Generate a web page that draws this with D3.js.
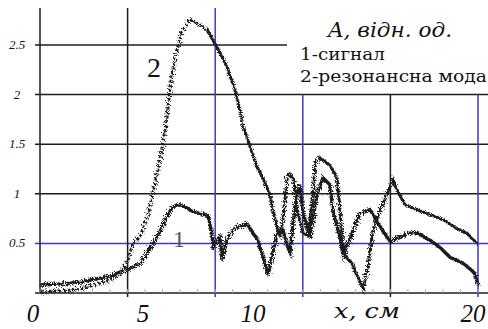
<!DOCTYPE html>
<html>
<head>
<meta charset="utf-8">
<script src="https://cdn.jsdelivr.net/npm/d3@7"></script>
<style>
  body { margin: 0; background: #fff; }
  svg { display: block; }
</style>
</head>
<body>
<svg id="chart" width="488" height="329"></svg>
<script>
// x in cm, amplitude in relative units
const signalX = [0, 0.91, 1.83, 2.74, 3.2, 3.65, 3.97, 4.57, 5.16, 5.48, 5.8, 6.03, 6.26, 6.62, 6.99,
  7.31, 7.67, 7.85, 7.9, 8.22, 8.31, 8.54, 8.81, 9.13, 9.45, 9.73, 9.91, 10.18, 10.41, 10.64, 10.82,
  11.1, 11.28, 11.42, 11.55, 11.74, 11.87, 12.01, 12.19, 12.33, 12.65, 12.92, 13.24, 13.38, 13.7,
  13.84, 14.16, 14.61, 15.07, 15.53, 15.98, 16.44, 16.76, 17.21, 17.81, 18.26, 18.72, 19.32, 19.86, 20];
const signalY = [0.08, 0.09, 0.11, 0.15, 0.17, 0.21, 0.23, 0.3, 0.5, 0.62, 0.77, 0.86, 0.89, 0.87, 0.82,
  0.8, 0.78, 0.6, 0.47, 0.57, 0.33, 0.54, 0.64, 0.67, 0.7, 0.6, 0.55, 0.37, 0.18, 0.42, 0.59,
  0.63, 0.48, 0.41, 0.69, 1.0, 1.09, 0.82, 0.66, 0.56, 1.0, 1.16, 1.09, 0.82, 0.56,
  0.38, 0.55, 0.8, 0.84, 0.67, 0.52, 0.56, 0.6, 0.61, 0.53, 0.46, 0.36, 0.3, 0.2, 0.08];

const modeX = [0, 0.91, 1.83, 2.74, 3.2, 3.65, 3.97, 4.25, 4.57, 4.89, 5.16, 5.39, 5.57, 5.8, 5.94,
  6.16, 6.48, 6.85, 7.21, 7.63, 7.9, 8.22, 8.54, 8.9, 9.13, 9.27, 9.59, 9.91, 10.05, 10.5, 10.64,
  10.82, 10.96, 11.1, 11.28, 11.42, 11.55, 11.74, 12.01, 12.24, 12.47, 12.56, 12.79, 13.24, 13.56,
  13.7, 13.84, 14.02, 14.25, 14.47, 14.75, 14.98, 15.21, 15.53, 15.84, 16.12, 16.3, 16.67, 17.21,
  17.81, 18.4, 18.95, 19.5, 19.95];
const modeY = [0.01, 0.02, 0.04, 0.1, 0.13, 0.2, 0.3, 0.5, 0.57, 0.75, 1.01, 1.25, 1.45, 1.78, 2.08,
  2.37, 2.63, 2.76, 2.71, 2.66, 2.55, 2.42, 2.28, 2.05, 1.85, 1.68, 1.48, 1.27, 1.22, 0.99, 0.82,
  0.66, 0.59, 0.75, 1.15, 1.2, 1.17, 0.85, 0.6, 0.58, 1.0, 1.32, 1.36, 1.29, 1.16,
  0.82, 0.48, 0.35, 0.3, 0.18, 0.04, 0.28, 0.64, 0.84, 0.99, 1.14, 1.04, 0.89, 0.84,
  0.79, 0.74, 0.66, 0.6, 0.5];

const xGrid = [0, 4, 8, 12, 16, 20];
const xBlue = [8, 12, 20];
const yGrid = [0, 0.5, 1, 1.5, 2, 2.5];
const yTickLabels = ["0.5", "1", "1.5", "2", "2.5"];
const xTickLabels = [["0", 0], ["5", 5], ["10", 10], ["20", 20]];

const svg = d3.select('#chart');
const x = d3.scaleLinear().domain([0, 20]).range([40, 478]);
const y = d3.scaleLinear().domain([0, 2.5]).range([293, 45]);
const xLab = d3.scaleLinear().domain([0, 20]).range([33, 473]);

const black = '#1c1c1c';
const blue = '#3a3ac4';
const serif = "Liberation Serif";   // latin digits
const cyr = "DejaVu Serif";         // the Liberation copy here has no cyrillic

const defs = svg.append('defs');
const f = defs.append('filter').attr('id', 'rough')
  .attr('x', '-5%').attr('y', '-5%').attr('width', '110%').attr('height', '110%');
f.append('feTurbulence').attr('type', 'fractalNoise').attr('baseFrequency', 0.9)
  .attr('numOctaves', 2).attr('seed', 4).attr('result', 'n');
f.append('feDisplacementMap').attr('in', 'SourceGraphic').attr('in2', 'n').attr('scale', 7);

// horizontal grid
const topLimit = 2.5; // the 2.5 line stops before the legend box
yGrid.forEach(v => {
  svg.append('line')
    .attr('x1', 35).attr('x2', v === topLimit ? 287 : 488)
    .attr('y1', y(v)).attr('y2', y(v))
    .attr('stroke', v === 0.5 ? blue : black)
    .attr('stroke-width', 1.5);
});

// vertical grid; the ones under the legend start at the y=2 line
xGrid.forEach(v => {
  const top = v >= 12 ? y(2) : 8;
  svg.append('line')
    .attr('x1', x(v)).attr('x2', x(v))
    .attr('y1', top).attr('y2', v === 0 ? 293 : 297)
    .attr('stroke', xBlue.includes(v) ? blue : black)
    .attr('stroke-width', 1.5);
});

// small minor ticks along the x axis
d3.range(0, 20.01, 0.8).forEach(v => {
  svg.append('line')
    .attr('x1', x(v)).attr('x2', x(v))
    .attr('y1', 289).attr('y2', 293)
    .attr('stroke', '#aaa').attr('stroke-width', 1);
});

// curves
const line = d3.line().x(d => x(d[0])).y(d => y(d[1]));
const modePts = modeX.map((v, i) => [v, modeY[i]]);

// resonant mode: sparse dots on the rise, dense noisy band after the peak
svg.append('path')
  .attr('d', line(modePts))
  .attr('fill', 'none')
  .attr('stroke', black)
  .attr('stroke-width', 3.2)
  .attr('stroke-dasharray', '3,1.5')
  .attr('filter', 'url(#rough)');

svg.append('path')
  .attr('d', line(modePts.filter(d => d[0] >= 7.6)))
  .attr('fill', 'none')
  .attr('stroke', black)
  .attr('stroke-width', 2.2)
  .attr('filter', 'url(#rough)');

svg.append('path')
  .attr('d', line(signalX.map((v, i) => [v, signalY[i]])))
  .attr('fill', 'none')
  .attr('stroke', black)
  .attr('stroke-width', 3.4)
  .attr('filter', 'url(#rough)');

function label(txt, px, py, opts) {
  const t = svg.append('text')
    .attr('x', px).attr('y', py)
    .attr('font-family', opts.family || serif)
    .attr('font-size', opts.size)
    .attr('fill', opts.fill || '#111')
    .text(txt);
  if (opts.italic) t.attr('font-style', 'italic');
  if (opts.anchor) t.attr('text-anchor', opts.anchor);
  if (opts.len) t.attr('textLength', opts.len).attr('lengthAdjust', 'spacingAndGlyphs');
  return t;
}

// y tick labels
yTickLabels.forEach(t => label(t, 17, y(+t) + 4, { size: 13, italic: true, anchor: 'middle' }));

// x tick labels
xTickLabels.forEach(([t, v]) => label(t, xLab(v), 322, { size: 25, italic: true, anchor: 'middle' }));

label('x, см', 334, 318, { family: cyr, size: 21, italic: true, len: 66 });

// legend
label('A, відн. од.', 328, 37, { family: cyr, size: 21, italic: true, len: 124 });
label('1-сигнал', 300, 60, { family: cyr, size: 16, len: 85 });
label('2-резонансна мода', 300, 82, { family: cyr, size: 16, len: 187 });

// curve numbers
label('2', 154, 77, { size: 28, anchor: 'middle' });
label('1', 179, 247, { size: 24, anchor: 'middle', fill: '#555' });
</script>
</body>
</html>
